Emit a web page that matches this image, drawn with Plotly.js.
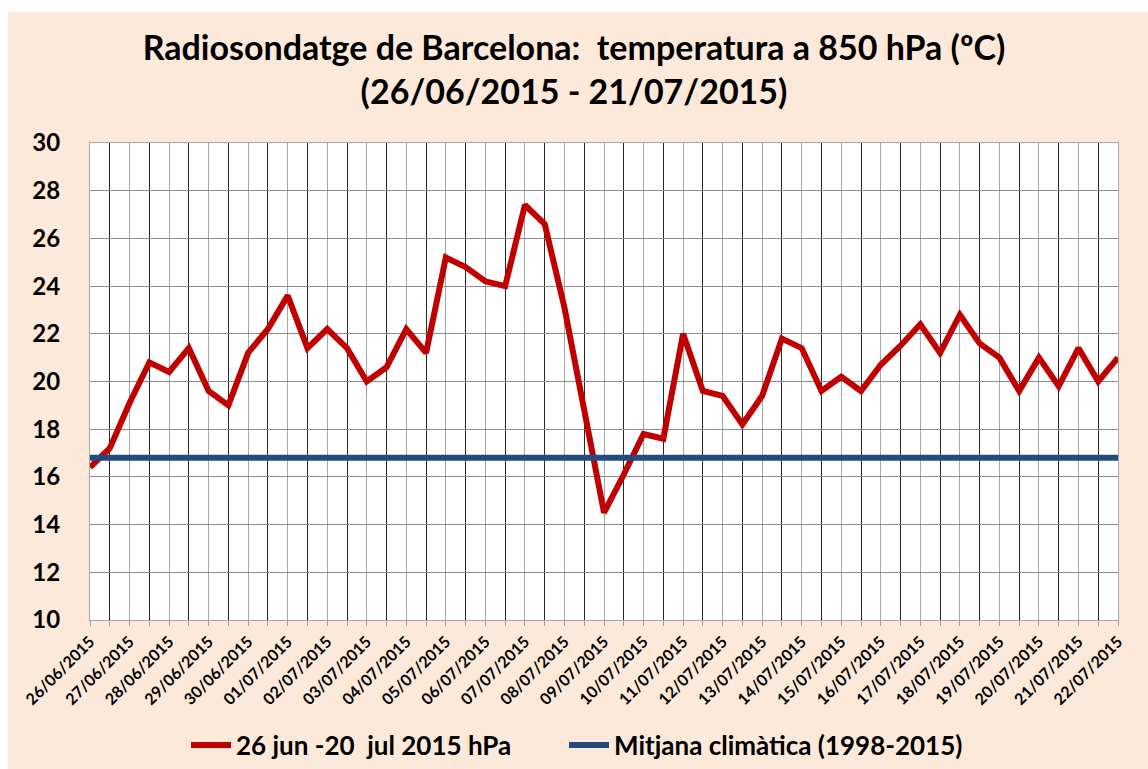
<!DOCTYPE html>
<html>
<head>
<meta charset="utf-8">
<script src="https://cdn.plot.ly/plotly-3.0.1.min.js"></script>
<style>html,body{margin:0;padding:0;background:#fff;}#chart{width:1148px;height:769px;}</style>
</head>
<body>
<div id="chart"></div>
<script>
// Sounding times (00 and 12 UTC)
const times = [
  "2015-06-26 00:00","2015-06-26 12:00","2015-06-27 00:00","2015-06-27 12:00",
  "2015-06-28 00:00","2015-06-28 12:00","2015-06-29 00:00","2015-06-29 12:00",
  "2015-06-30 00:00","2015-06-30 12:00","2015-07-01 00:00","2015-07-01 12:00",
  "2015-07-02 00:00","2015-07-02 12:00","2015-07-03 00:00","2015-07-03 12:00",
  "2015-07-04 00:00","2015-07-04 12:00","2015-07-05 00:00","2015-07-05 12:00",
  "2015-07-06 00:00","2015-07-06 12:00","2015-07-07 00:00","2015-07-07 12:00",
  "2015-07-08 00:00","2015-07-08 12:00","2015-07-09 00:00","2015-07-09 12:00",
  "2015-07-10 00:00","2015-07-10 12:00","2015-07-11 00:00","2015-07-11 12:00",
  "2015-07-12 00:00","2015-07-12 12:00","2015-07-13 00:00","2015-07-13 12:00",
  "2015-07-14 00:00","2015-07-14 12:00","2015-07-15 00:00","2015-07-15 12:00",
  "2015-07-16 00:00","2015-07-16 12:00","2015-07-17 00:00","2015-07-17 12:00",
  "2015-07-18 00:00","2015-07-18 12:00","2015-07-19 00:00","2015-07-19 12:00",
  "2015-07-20 00:00","2015-07-20 12:00","2015-07-21 00:00","2015-07-21 12:00",
  "2015-07-22 00:00"
];
// Temperature at 850 hPa (ºC)
const temp850 = [
  16.4, 17.2, 19.1, 20.8, 20.4, 21.4, 19.6, 19.0,
  21.2, 22.2, 23.6, 21.4, 22.2, 21.4, 20.0, 20.6,
  22.2, 21.2, 25.2, 24.8, 24.2, 24.0, 27.4, 26.6,
  23.1, 18.7, 14.5, 16.1, 17.8, 17.6, 22.0, 19.6,
  19.4, 18.2, 19.4, 21.8, 21.4, 19.6, 20.2, 19.6,
  20.7, 21.5, 22.4, 21.2, 22.8, 21.6, 21.0, 19.6,
  21.0, 19.8, 21.4, 20.0, 21.0
];
// Climatological mean 1998-2015
const climMean = 16.8;
const climTimes = ["2015-06-26 00:00", "2015-07-22 00:00"];

const seriesNames = ["26 jun -20\u00a0\u00a0jul 2015 hPa", "Mitjana climàtica (1998-2015)"];
const titleText = "Radiosondatge de Barcelona:\u00a0\u00a0temperatura a 850 hPa (ºC)<br>(26/06/2015 - 21/07/2015)";

const FONT = "Lato, 'Open Sans', sans-serif";

const traces = [
  {
    x: times, y: temp850, type: "scatter", mode: "lines",
    name: seriesNames[0], legend: "legend",
    line: {color: "#C00000", width: 6}
  },
  {
    x: climTimes, y: [climMean, climMean], type: "scatter", mode: "lines",
    name: seriesNames[1], legend: "legend2",
    line: {color: "#234B7E", width: 6}
  }
];

const legendFont = {family: FONT, size: 26, weight: "bold", color: "#000"};

const layout = {
  width: 1148, height: 769,
  paper_bgcolor: "#FDE9D9",
  plot_bgcolor: "#FFFFFF",
  margin: {l: 90, r: 30, t: 143, b: 149},
  font: {family: FONT, color: "#000"},
  title: {
    text: titleText,
    font: {family: FONT, size: 34, weight: "bold", color: "#000"},
    x: 0.5, xanchor: "center",
    yref: "container", y: 0.922, yanchor: "middle"
  },
  xaxis: {
    type: "date",
    range: ["2015-06-26 00:00", "2015-07-22 00:00"],
    tick0: "2015-06-26", dtick: 86400000,
    tickformat: "%d/%m/%Y",
    tickangle: -45,
    tickfont: {family: FONT, size: 16, weight: "bold", color: "#000"},
    ticks: "outside", ticklen: 5, tickcolor: "#A0A0A0",
    showgrid: true, gridcolor: "#A6A6A6", gridwidth: 1,
    minor: {dtick: 43200000, showgrid: true, gridcolor: "#262626", gridwidth: 1,
            ticks: "outside", ticklen: 5, tickcolor: "#A0A0A0"},
    showline: true, linecolor: "#A6A6A6", linewidth: 1, mirror: true,
    zeroline: false, fixedrange: true
  },
  yaxis: {
    range: [10, 30], dtick: 2, tick0: 10,
    tickfont: {family: FONT, size: 24, weight: "bold", color: "#000"},
    ticks: "", ticklabelstandoff: 24,
    showgrid: true, gridcolor: "#8C8C8C", gridwidth: 1,
    showline: true, linecolor: "#A6A6A6", linewidth: 1, mirror: true,
    zeroline: false, fixedrange: true
  },
  legend: {
    orientation: "h",
    x: 96/1028, xanchor: "left",
    yref: "container", y: 0.031, yanchor: "middle",
    font: legendFont, itemwidth: 40,
    bgcolor: "rgba(0,0,0,0)"
  },
  legend2: {
    orientation: "h",
    x: 474/1028, xanchor: "left",
    yref: "container", y: 0.031, yanchor: "middle",
    font: legendFont, itemwidth: 40,
    bgcolor: "rgba(0,0,0,0)"
  },
  showlegend: true,
  shapes: [
    {type: "rect", xref: "paper", yref: "paper", layer: "above", line: {width: 0},
     fillcolor: "#FFFFFF", x0: -90/1028, x1: -82/1028, y0: -149/477, y1: 143/477 + 1},
    {type: "rect", xref: "paper", yref: "paper", layer: "above", line: {width: 0},
     fillcolor: "#FFFFFF", x0: -90/1028, x1: 1 + 30/1028, y0: 1 + 131/477, y1: 1 + 143/477}
  ]
};

Plotly.newPlot("chart", traces, layout, {displayModeBar: false, staticPlot: true});
</script>
</body>
</html>
